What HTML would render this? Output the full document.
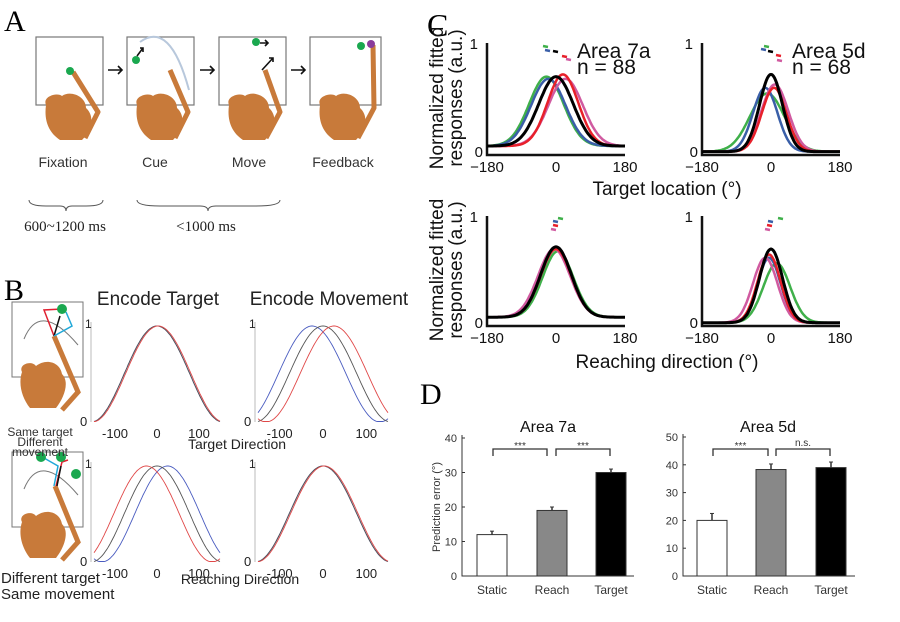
<!DOCTYPE html>
<html><head><meta charset="utf-8"><style>
html,body{margin:0;padding:0;background:#fff;}
svg{display:block;font-family:"Liberation Sans",sans-serif;}
.serif{font-family:"Liberation Serif",serif;}
</style></head><body>
<svg id="s" width="900" height="622" viewBox="0 0 900 622" xmlns="http://www.w3.org/2000/svg">
<rect width="900" height="622" fill="#fff"/>
<!-- Panel A -->
<text x="4" y="31" class="serif" font-size="30">A</text>
<g stroke="#777" stroke-width="1.2" fill="none">
<rect x="36" y="37" width="67" height="68"/><rect x="127" y="37" width="67" height="68"/>
<rect x="219" y="37" width="67" height="68"/><rect x="310" y="37" width="71" height="68"/>
</g>
<g fill="#c87a3a">
<path d="M46,105 C42,96 58,92 62,96 C70,90 86,96 86,108 C95,116 92,130 82,140 L60,140 C48,132 44,120 46,105Z"/>
<path d="M137,105 C133,96 149,92 153,96 C161,90 177,96 177,108 C186,116 183,130 173,140 L151,140 C139,132 135,120 137,105Z"/>
<path d="M229,105 C225,96 241,92 245,96 C253,90 269,96 269,108 C278,116 275,130 265,140 L243,140 C231,132 227,120 229,105Z"/>
<path d="M320,105 C316,96 332,92 336,96 C344,90 360,96 360,108 C369,116 366,130 356,140 L334,140 C322,132 318,120 320,105Z"/>
</g>
<g stroke="#c87a3a" stroke-width="5" fill="none" stroke-linejoin="round">
<path d="M73,72 L98,112 L85,138"/><path d="M170,70 L188,112 L175,138"/>
<path d="M265,70 L280,112 L266,138"/><path d="M373,45 L374,108 L358,138"/>
</g>
<path d="M140,22 Q170,0 189,70" stroke="#b8c8dc" stroke-width="2" fill="none" transform="translate(0,20)"/>
<g fill="#1aa84f"><circle cx="70" cy="71" r="4"/><circle cx="136" cy="60" r="4"/><circle cx="256" cy="42" r="4"/><circle cx="361" cy="46" r="4"/></g>
<circle cx="371" cy="44" r="4" fill="#8a3c9c"/>
<g stroke="#111" stroke-width="1.6" fill="none">
<path d="M137,56 L143,48 M140,48 L143,48 L143,52"/>
<path d="M260,43 L268,43 M265,40 L268,43 L265,46"/>
<path d="M262,70 L273,58 M269,58 L273,58 L273,62"/>
<path d="M108,70 L122,70 M118,66 L122,70 L118,74"/><path d="M200,70 L214,70 M210,66 L214,70 L210,74"/><path d="M291,70 L305,70 M301,66 L305,70 L301,74"/>
</g>
<g font-size="14" fill="#333" text-anchor="middle">
<text x="63" y="167">Fixation</text><text x="155" y="167">Cue</text><text x="249" y="167">Move</text><text x="343" y="167">Feedback</text>
</g>
<g stroke="#555" fill="none" stroke-width="1"><path d="M29,200 Q29,206 46,206 L60,206 Q66,206 66,211 Q66,206 72,206 L86,206 Q103,206 103,200"/>
<path d="M137,200 Q137,206 160,206 L200,206 Q208,206 208,211 Q208,206 216,206 L256,206 Q280,206 280,200"/></g>
<g class="serif" font-size="15" fill="#222" text-anchor="middle"><text x="65" y="231">600~1200 ms</text><text x="206" y="231">&lt;1000 ms</text></g>

<!-- Panel B -->
<text x="4" y="300" class="serif" font-size="30">B</text>
<g stroke="#777" fill="none" stroke-width="1"><rect x="12" y="302" width="71" height="75"/><rect x="12" y="452" width="71" height="75"/></g>
<g fill="#c87a3a">
<path d="M22,372 C18,364 32,360 36,366 C46,358 60,362 62,374 C70,382 64,398 56,408 L30,408 C22,398 18,384 22,372Z"/>
<path d="M22,522 C18,514 32,510 36,516 C46,508 60,512 62,524 C70,532 64,548 56,558 L30,558 C22,548 18,534 22,522Z"/>
</g>
<g stroke="#c87a3a" stroke-width="5" fill="none"><path d="M54,336 L78,392 L62,410"/><path d="M55,486 L78,542 L62,560"/></g>
<path d="M24,334 Q40,295 78,340" stroke="#777" fill="none" transform="translate(0,5)"/>
<path d="M24,484 Q40,445 78,490" stroke="#777" fill="none" transform="translate(0,5)"/>
<g stroke-width="1.5" fill="none"><path d="M54,336 L44,310 L62,309" stroke="#e02030"/><path d="M54,336 L60,316" stroke="#111"/><path d="M54,336 L72,326 L66,312" stroke="#20a8d8"/>
<path d="M56,486 L62,462 L68,460" stroke="#e02030"/><path d="M57,486 L61,466" stroke="#111"/><path d="M54,486 L58,466 L44,458" stroke="#20a8d8"/></g>
<g fill="#1aa84f"><circle cx="62" cy="309" r="5"/><circle cx="41" cy="457" r="5"/><circle cx="61" cy="457" r="5"/><circle cx="76" cy="474" r="5"/></g>
<g font-size="12" fill="#333" text-anchor="middle"><text x="40" y="436">Same target</text><text x="40" y="446">Different</text><text x="40" y="456">movement</text></g>
<g font-size="15" fill="#222"><text x="1" y="583">Different target</text><text x="1" y="599">Same movement</text></g>
<g font-size="19" fill="#222" text-anchor="middle"><text x="158" y="305">Encode Target</text><text x="329" y="305">Encode Movement</text></g>
<g font-size="14" fill="#222" text-anchor="middle"><text x="237" y="449">Target Direction</text><text x="240" y="584">Reaching Direction</text></g>
<g id="bplots"></g>

<!-- Panel C -->
<text x="427" y="36" class="serif" font-size="32">C</text>
<g font-size="19" fill="#111" text-anchor="middle">
<text transform="translate(443,98) rotate(-90)">Normalized fitted</text>
<text transform="translate(462,98) rotate(-90)">responses (a.u.)</text>
<text transform="translate(443,270) rotate(-90)">Normalized fitted</text>
<text transform="translate(462,270) rotate(-90)">responses (a.u.)</text>
<text x="667" y="195">Target location (°)</text>
<text x="667" y="368">Reaching direction (°)</text>
</g>
<g font-size="21" fill="#111"><text x="577" y="58">Area 7a</text><text x="577" y="74">n = 88</text><text x="792" y="58">Area 5d</text><text x="792" y="74">n = 68</text></g>
<g id="cplots"></g>

<!-- Panel D -->
<text x="420" y="404" class="serif" font-size="30">D</text>
<g font-size="16" fill="#111" text-anchor="middle"><text x="548" y="432">Area 7a</text><text x="768" y="432">Area 5d</text></g>
<text transform="translate(440,507) rotate(-90)" font-size="11" fill="#333" text-anchor="middle">Prediction error (°)</text>
<g id="dplots"></g>
</svg>
<script>
var NS="http://www.w3.org/2000/svg";
function el(p,tag,a,txt){var e=document.createElementNS(NS,tag);for(var k in a)e.setAttribute(k,a[k]);if(txt!=null)e.textContent=txt;p.appendChild(e);return e;}
var B=document.getElementById('bplots');
function bplot(x0,x1,yt,yb,shifts){
 el(B,'line',{x1:x0-3,y1:yt,x2:x0-3,y2:yb,stroke:'#bbb'});
 el(B,'text',{x:x0-9,y:yt+6,'font-size':12,fill:'#222'},'1');
 el(B,'text',{x:x0-14,y:yb+4,'font-size':13,fill:'#222'},'0');
 var cx=(x0+x1)/2,sc=(x1-x0)/300;
 [[-100,'-100'],[0,'0'],[100,'100']].forEach(function(t){el(B,'text',{x:cx+t[0]*sc,y:yb+16,'font-size':13,fill:'#222','text-anchor':'middle'},t[1]);});
 var cols=['#4a5cc0','#555','#e04848'];
 shifts.forEach(function(s,i){var d='';for(var a=-150;a<=150;a+=3){var v=0.48*(1+Math.cos((a-s)*Math.PI/180*1.15));v=Math.max(0.005,Math.min(v,0.96));var x=cx+a*sc,y=yb-v*(yb-yt);d+=(d?'L':'M')+x.toFixed(1)+','+y.toFixed(1);}el(B,'path',{d:d,stroke:cols[i],fill:'none','stroke-width':0.9});});
}
bplot(94,220,322,422,[0,0,3]);
bplot(258,388,322,422,[-25,0,25]);
bplot(94,220,462,562,[25,0,-25]);
bplot(258,388,462,562,[0,0,3]);
var C=document.getElementById('cplots');
function cplot(x0,x1,yt,yb,curves,ticks){
 el(C,'path',{d:'M'+x0+','+yt+' L'+x0+','+yb+' L'+x1+','+yb,stroke:'#111',fill:'none','stroke-width':2.5});
 el(C,'text',{x:x0-9,y:yt+6,'font-size':15,fill:'#111','text-anchor':'end'},'1');
 el(C,'text',{x:x0-4,y:yb+2,'font-size':15,fill:'#111','text-anchor':'end'},'0');
 var cx=(x0+x1)/2,sc=(x1-x0)/360;
 [[-180,'−180'],[0,'0'],[180,'180']].forEach(function(t){el(C,'text',{x:cx+t[0]*sc,y:yb+17,'font-size':15,fill:'#111','text-anchor':'middle'},t[1]);});
 curves.forEach(function(c){var d='';for(var a=-180;a<=180;a+=3){var v=c.b+(c.p-c.b)*Math.exp(-Math.pow(a-c.m,2)/(2*c.w*c.w));var x=cx+a*sc,y=yb-v*(yb-yt);d+=(d?'L':'M')+x.toFixed(1)+','+y.toFixed(1);}el(C,'path',{d:d,stroke:c.c,fill:'none','stroke-width':c.c=='#000'?3:2.5});});
 ticks.forEach(function(t){el(C,'line',{x1:t[0],y1:t[1],x2:t[0]+5,y2:t[1]+1,stroke:t[2],'stroke-width':2.5});});
}
var G='#3fb04a',Bl='#3a5fa8',R='#e8202a',M='#d05aa0',K='#000';
cplot(487,625,43,155,[{c:G,m:-25,p:0.7,b:0.08,w:45},{c:Bl,m:-20,p:0.68,b:0.08,w:45},{c:M,m:25,p:0.68,b:0.08,w:45},{c:R,m:18,p:0.72,b:0.08,w:40},{c:K,m:0,p:0.7,b:0.08,w:45}],[[543,46,G],[545,50,Bl],[553,51,K],[562,56,R],[566,59,M]]);
cplot(702,840,43,155,[{c:G,m:-10,p:0.55,b:0.03,w:45},{c:Bl,m:-15,p:0.6,b:0.03,w:32},{c:M,m:10,p:0.63,b:0.03,w:35},{c:R,m:8,p:0.6,b:0.03,w:32},{c:K,m:0,p:0.72,b:0.03,w:30}],[[764,46,G],[761,49,Bl],[768,51,K],[776,55,R],[777,60,M]]);
cplot(487,625,216,326,[{c:G,m:5,p:0.68,b:0.08,w:40},{c:Bl,m:0,p:0.7,b:0.08,w:40},{c:M,m:-5,p:0.7,b:0.08,w:42},{c:R,m:0,p:0.7,b:0.08,w:40},{c:K,m:0,p:0.72,b:0.08,w:40}],[[558,218,G],[553,221,Bl],[553,225,R],[551,229,M]]);
cplot(702,840,216,326,[{c:G,m:15,p:0.57,b:0.03,w:35},{c:Bl,m:-5,p:0.62,b:0.03,w:30},{c:M,m:-15,p:0.62,b:0.03,w:32},{c:R,m:-5,p:0.65,b:0.03,w:30},{c:K,m:0,p:0.7,b:0.03,w:30}],[[778,218,G],[768,221,Bl],[767,225,R],[765,229,M]]);
var D=document.getElementById('dplots');
function dplot(x0,x1,y0,ytop,max,step,bars,br){
 el(D,'path',{d:'M'+x0+','+(ytop-3)+' L'+x0+','+y0+' L'+x1+','+y0,stroke:'#333',fill:'none','stroke-width':1});
 var k=(y0-ytop)/max;
 for(var v=0;v<=max;v+=step){var y=y0-v*k;el(D,'line',{x1:x0,y1:y,x2:x0+3,y2:y,stroke:'#333'});el(D,'text',{x:x0-5,y:y+4,'font-size':11,fill:'#333','text-anchor':'end'},v);}
 var names=['Static','Reach','Target'],fills=['#fff','#888','#000'];
 bars.forEach(function(b,i){var t=y0-b[1]*k;el(D,'line',{x1:b[0]+15,y1:t,x2:b[0]+15,y2:y0-(b[1]+b[2])*k,stroke:'#333','stroke-width':1.5});el(D,'line',{x1:b[0]+13,y1:y0-(b[1]+b[2])*k,x2:b[0]+17,y2:y0-(b[1]+b[2])*k,stroke:'#333'});el(D,'rect',{x:b[0],y:t,width:30,height:y0-t,fill:fills[i],stroke:'#333','stroke-width':1});el(D,'text',{x:b[0]+15,y:y0+18,'font-size':12,fill:'#333','text-anchor':'middle'},names[i]);});
 br.forEach(function(b){el(D,'path',{d:'M'+b[0]+',456 L'+b[0]+',449 L'+b[1]+',449 L'+b[1]+',456',stroke:'#333',fill:'none','stroke-width':1.3});el(D,'text',{x:(b[0]+b[1])/2,y:b[3]||447,'font-size':10,fill:'#333','text-anchor':'middle'},b[2]);});
}
dplot(462,634,576,438,40,10,[[477,12,1],[537,19,1],[596,30,1]],[[493,547,'***',449],[556,610,'***',449]]);
dplot(683,855,576,437,50,10,[[697,20,2.5],[756,38.3,2],[816,39,2]],[[713,768,'***',449],[776,830,'n.s.',446]]);
</script>
</body></html>
